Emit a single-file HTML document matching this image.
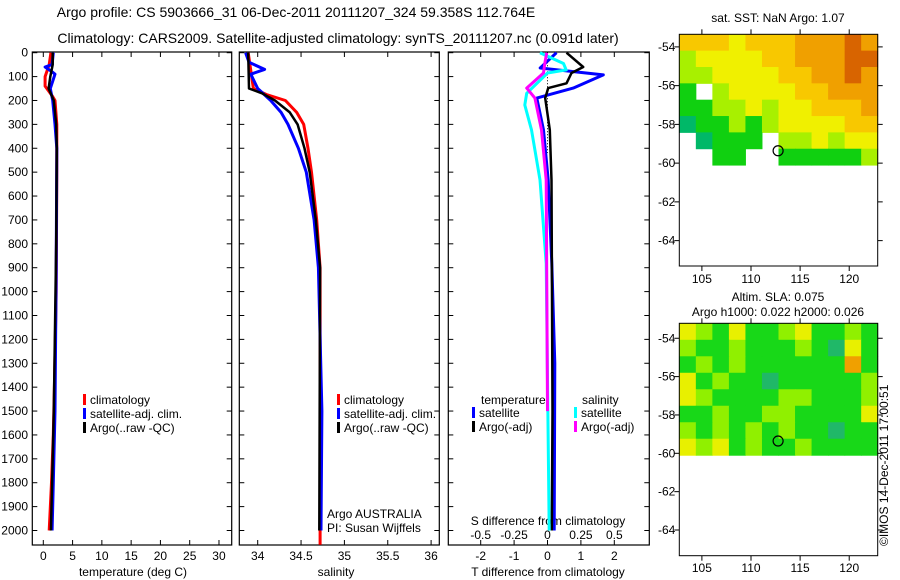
<!DOCTYPE html>
<html><head><meta charset="utf-8"><style>
html,body{margin:0;padding:0;background:#fff;}
svg{display:block;font-family:"Liberation Sans",sans-serif;}
text{font-size:12px;fill:#000;}
</style></head><body>
<svg id="fig" width="900" height="580" viewBox="0 0 900 580">
<text x="296" y="17" text-anchor="middle" style="font-size:14px">Argo profile: CS 5903666_31 06-Dec-2011 20111207_324 59.358S 112.764E</text>
<text x="338" y="43" text-anchor="middle" style="font-size:14px">Climatology: CARS2009. Satellite-adjusted climatology: synTS_20111207.nc (0.091d later)</text>
<text x="778" y="22" text-anchor="middle">sat. SST: NaN Argo: 1.07</text>
<text x="778" y="301" text-anchor="middle">Altim. SLA: 0.075</text>
<text x="778" y="316" text-anchor="middle">Argo h1000: 0.022 h2000: 0.026</text>
<text transform="translate(888,546) rotate(-90)">©IMOS 14-Dec-2011 17:00:51</text>
<g id="g"></g>
</svg>
<script>
// ---- data ----
const depthTicks=[0,100,200,300,400,500,600,700,800,900,1000,1100,1200,1300,1400,1500,1600,1700,1800,1900,2000];
const tempTicks=[0,5,10,15,20,25,30];
const salTicks=[34,34.5,35,35.5,36];
const salTickLabels=["34","34.5","35","35.5","36"];
const dTTicks=[-2,-1,0,1,2];
const dSTicks=[-0.5,-0.25,0,0.25,0.5];
const dSTickLabels=["-0.5","-0.25","0","0.25","0.5"];

const tClimD=[0,50,100,140,180,200,300,500,1000,1400,1600,1800,2000];
const tClimV=[1.3,1.0,0.3,0.3,1.5,2.0,2.3,2.3,2.2,1.9,1.7,1.4,1.0];
const tArgoD=[0,50,100,150,200,300,400,800,1500,1700,2000];
const tArgoV=[1.6,1.6,1.2,0.9,1.8,2.2,2.3,2.2,1.8,1.6,1.3];
const tSatD=[0,50,60,80,90,150,200,300,400,900,1500,1800,2000];
const tSatV=[1.7,1.5,0.3,1.5,2.0,1.2,1.6,2.0,2.3,2.2,2.0,1.7,1.5];

const sClimD=[0,150,175,200,250,300,400,500,700,900,2060];
const sClimV=[33.89,33.95,34.10,34.32,34.45,34.53,34.58,34.62,34.68,34.72,34.72];
const sArgoD=[0,150,170,200,250,300,400,500,700,900,2000];
const sArgoV=[33.89,33.9,34.05,34.2,34.37,34.46,34.54,34.6,34.67,34.72,34.71];
const sSatD=[0,40,70,90,150,200,250,300,400,500,700,900,1500,2000];
const sSatV=[33.86,33.9,34.08,33.92,34.0,34.15,34.27,34.35,34.47,34.56,34.65,34.7,34.74,34.73];

const dTSatD=[0,64,93,148,190,323,533,882,1300,2000];
const dTSatV=[0.27,-0.22,1.67,0.77,-0.32,-0.12,0.02,0.13,0.22,0.2];
const dTArgoD=[0,60,85,128,148,190,323,533,1500,2000];
const dTArgoV=[0.57,1.07,0.72,0.57,0.02,-0.07,0.07,0.12,0.15,0.13];
const dSSatD=[0,45,72,85,170,219,323,533,882,2000];
const dSSatV=[-0.056,0.12,0.14,0.0,-0.156,-0.17,-0.12,-0.056,-0.01,0.013];
const dSArgoD=[0,45,85,148,190,323,533,1500];
const dSArgoV=[-0.006,-0.02,-0.03,-0.156,-0.094,-0.045,-0.01,0];

const sstGrid=[
[4,4,4,3,4,4,4,5,5,5,6,5],
[2,3,3,3,3,4,4,5,5,5,6,6],
[2,2,3,3,3,3,4,4,5,5,6,5],
[1,-1,2,3,3,3,3,4,4,5,5,5],
[1,1,2,2,3,2,3,3,4,4,4,5],
[0,1,1,2,1,2,3,3,3,3,4,4],
[-1,0,1,1,1,-1,2,2,3,2,3,3],
[-1,-1,1,1,-1,-1,1,1,1,1,1,2]];
const slaGrid=[
[3,2,1,3,1,1,2,3,1,1,2,1],
[2,1,1,2,1,1,1,2,1,0,3,1],
[1,2,1,2,1,1,1,1,1,1,4,1],
[3,1,2,1,1,0,1,1,1,1,1,2],
[3,2,1,1,1,1,2,2,1,1,1,2],
[1,1,2,1,1,2,2,1,1,1,1,3],
[2,1,2,1,2,1,2,1,1,0,1,1],
[3,2,3,1,2,1,1,2,1,1,1,1]];
const lonTicks=[105,110,115,120];
const latTicks=[-54,-56,-58,-60,-62,-64];
const argoLon=112.76, argoLat=-59.36;

// ---- drawing ----
const NS="http://www.w3.org/2000/svg";
const G=document.getElementById('g');
function mk(tag,attrs,parent){const e=document.createElementNS(NS,tag);for(const k in attrs)e.setAttribute(k,attrs[k]);(parent||G).appendChild(e);return e;}
function txt(x,y,s,anchor,parent){const t=mk('text',{x:x,y:y,'text-anchor':anchor||'middle'},parent);t.textContent=s;return t;}
const yD=d=>52.7+d*0.2389;
const PT={y0:52,y1:545};
const xT=v=>43.3+v*5.856;
const xS=v=>257.7+(v-34)*86.7;
const xdT=v=>547.5+v*33.4;
const xdS=v=>547.5+v*133.6;

function panel(x0,x1,name){
  const r=mk('rect',{x:x0,y:PT.y0,width:x1-x0,height:PT.y1-PT.y0,fill:'none',stroke:'#000','stroke-width':1.2});
  
  
  depthTicks.forEach(d=>{mk('line',{x1:x0,x2:x0+5,y1:yD(d),y2:yD(d),stroke:'#000'});mk('line',{x1:x1,x2:x1-5,y1:yD(d),y2:yD(d),stroke:'#000'});});
}
function xticks(xs,fx,x0){xs.forEach(v=>{const x=fx(v);mk('line',{x1:x,x2:x,y1:PT.y0,y2:PT.y0+5,stroke:'#000'});mk('line',{x1:x,x2:x,y1:PT.y1,y2:PT.y1-5,stroke:'#000'});});}
function series(D,V,fx,color,w,name){
  const p=mk('polyline',{points:D.map((d,i)=>fx(V[i]).toFixed(1)+','+yD(d).toFixed(1)).join(' '),fill:'none',stroke:color,'stroke-width':w,'stroke-linejoin':'round'});
  
  
}
depthTicks.forEach(d=>{const t=txt(28,yD(d)+4,String(d),'end');
  
  });

// panel 1
panel(32.3,231.7,'temperature-panel');xticks(tempTicks,xT);
tempTicks.forEach(v=>{const t=txt(xT(v),560,String(v));
  
  });
let t1=txt(133,576,'temperature (deg C)');


series(tClimD,tClimV,xT,'#f00',3,'temp-climatology-line');
series(tSatD,tSatV,xT,'#00f',3,'temp-satellite-line');
series(tArgoD,tArgoV,xT,'#000',2.5,'temp-argo-line');

// panel 2
panel(239.3,439.3,'salinity-panel');xticks(salTicks,xS);
salTicks.forEach((v,i)=>{const t=txt(xS(v),560,salTickLabels[i]);
  
  });
let t2=txt(336,576,'salinity');


series(sClimD,sClimV,xS,'#f00',3,'sal-climatology-line');
series(sSatD,sSatV,xS,'#00f',3,'sal-satellite-line');
series(sArgoD,sArgoV,xS,'#000',2.5,'sal-argo-line');
let a1=txt(327,518,'Argo AUSTRALIA','start');


let a2=txt(327,532,'PI: Susan Wijffels','start');



function legend(x,y,items,name){
  const g=mk('g',{});
  
  
  items.forEach((it,i)=>{mk('rect',{x:x,y:y+i*14-10,width:3,height:11,fill:it[1]},g);txt(x+7,y+i*14,it[0],'start',g);});
}
legend(83,404,[['climatology','#f00'],['satellite-adj. clim.','#00f'],['Argo(..raw -QC)','#000']],'temperature-legend');
legend(337,404,[['climatology','#f00'],['satellite-adj. clim.','#00f'],['Argo(..raw -QC)','#000']],'salinity-legend');

// panel 3
panel(448.3,649.3,'difference-panel');xticks(dTTicks,xdT);
dTTicks.forEach(v=>{const t=txt(xdT(v),560,String(v));
  
  });
dSTicks.forEach((v,i)=>{const t=txt(xdS(v),539,dSTickLabels[i]);
  
  });
let t3=txt(548,576,'T difference from climatology');


let t4=txt(548,525,'S difference from climatology');


mk('line',{x1:xdT(0),x2:xdT(0),y1:yD(40),y2:yD(420),stroke:'#000','stroke-dasharray':'1,2'});
series(dTSatD,dTSatV,xdT,'#00f',3,'dT-satellite-line');
series(dTArgoD,dTArgoV,xdT,'#000',2.5,'dT-argo-line');
series(dSSatD,dSSatV,xdS,'#0ff',3,'dS-satellite-line');
series(dSArgoD,dSArgoV,xdS,'#f0f',3,'dS-argo-line');
let lt=txt(481,404,'temperature','start');


let ls=txt(582,404,'salinity','start');


legend(472,417,[['satellite','#00f'],['Argo(-adj)','#000']],'dT-legend');
legend(574,417,[['satellite','#0ff'],['Argo(-adj)','#f0f']],'dS-legend');

// maps
const sstCols=['#00b868','#10d010','#a8f000','#f0f000','#f8c800','#f0a000','#d86400'];
const slaCols=['#20b868','#18d818','#90f000','#e8f000','#f0a000'];
function map(top,bot,latTop,latBot,grid,cols,name,lonY){
  const L=679.3,R=877.7,lon0=102.7,lon1=122.9;
  const fx=v=>L+(v-lon0)/(lon1-lon0)*(R-L);
  const fy=v=>top+(latTop-v)/(latTop-latBot)*(bot-top);
  const g=mk('g',{});
  
  
  const nr=grid.length,nc=grid[0].length,dlat=(latTop+60.1)/nr,dlon=(lon1-lon0)/nc;
  grid.forEach((row,i)=>row.forEach((v,j)=>{if(v<0)return;
    const x=fx(lon0+j*dlon),y=fy(latTop-i*dlat);
    mk('rect',{x:x,y:y,width:fx(lon0+(j+1)*dlon)-x+0.5,height:fy(latTop-(i+1)*dlat)-y+0.5,fill:cols[v]},g);}));
  mk('rect',{x:L,y:top,width:R-L,height:bot-top,fill:'none',stroke:'#000'},g);
  latTicks.forEach(v=>{const y=fy(v);mk('line',{x1:L,x2:L-5,y1:y,y2:y,stroke:'#000'},g);mk('line',{x1:R,x2:R+5,y1:y,y2:y,stroke:'#000'},g);txt(L-4,y+4,String(v),'end',g);});
  lonTicks.forEach(v=>{const x=fx(v);mk('line',{x1:x,x2:x,y1:bot,y2:bot+5,stroke:'#000'},g);mk('line',{x1:x,x2:x,y1:top,y2:top-5,stroke:'#000'},g);txt(x,lonY,String(v),'middle',g);});
  const c=mk('circle',{cx:fx(argoLon),cy:fy(argoLat),r:5,fill:'none',stroke:'#000','stroke-width':1.2},g);
  
  
}
map(34.3,266,-53.35,-65.31,sstGrid,sstCols,'sst-map',283);
map(323.3,555.7,-53.22,-65.34,slaGrid,slaCols,'sla-map',572);
</script>
</body></html>
